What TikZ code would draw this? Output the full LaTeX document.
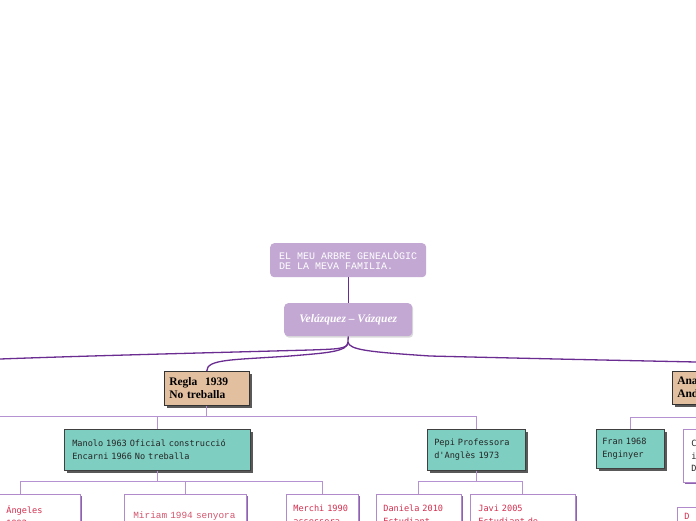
\documentclass[tikz,border=0pt]{standalone}
\usepackage{fontspec}
\usetikzlibrary{shadows}
\newfontfamily\courf{Liberation Mono}
\newfontfamily\pixf{DejaVu Sans Mono}
\newfontfamily\slabf{Liberation Serif}
\definecolor{lav}{HTML}{C3A8D4}
\definecolor{mainln}{HTML}{6A2C91}
\definecolor{subln}{HTML}{B592D2}
\definecolor{tanbox}{HTML}{E2BF9F}
\definecolor{tealbox}{HTML}{7ECEC1}
\definecolor{kidred}{HTML}{D42F4F}
\definecolor{kidpink}{HTML}{D4566E}
\definecolor{kidborder}{HTML}{B08ACB}
\definecolor{kidshadow}{HTML}{8E62AE}
\begin{document}
\begin{tikzpicture}[x=1pt,y=-1pt,
  mainline/.style={draw=mainln,line width=1.3pt},
  subline/.style={draw=subln,line width=0.8pt},
  lavbox/.style={fill=lav,rounded corners=4pt,draw=none,anchor=north west,text=white},
  tanstyle/.style={fill=tanbox,draw=black!80,line width=0.5pt,anchor=north west,align=left,
     drop shadow={shadow xshift=2.5pt,shadow yshift=-2.5pt,opacity=1,fill=black!65},
     font=\slabf\bfseries\fontsize{11.5}{13}\selectfont,inner ysep=0pt},
  tealstyle/.style={fill=tealbox,draw=black!75,line width=0.5pt,anchor=north west,align=left,
     drop shadow={shadow xshift=2.5pt,shadow yshift=-2.5pt,opacity=1,fill=black!65},
     font=\pixf\fontsize{8.6}{12.5}\selectfont,text=black!85,inner ysep=0pt},
  kidstyle/.style={fill=white,draw=kidborder,line width=0.7pt,anchor=north west,align=left,
     drop shadow={shadow xshift=1.5pt,shadow yshift=-1.5pt,opacity=1,fill=kidshadow},
     font=\pixf\fontsize{8.6}{13}\selectfont,text=kidred,inner ysep=11pt}
]
\useasboundingbox (0,0) rectangle (696,520);
\clip (0,0) rectangle (696,520);
\fill[white] (0,0) rectangle (696,520);

% title boxes
\node[lavbox,minimum width=156pt,minimum height=34pt,align=left,
      font=\courf\fontsize{10}{10}\selectfont] (title) at (270,243)
  {EL MEU ARBRE GENEALÒGIC\\DE LA MEVA FAMILIA.};
\node[lavbox,minimum width=128pt,minimum height=33pt,
      drop shadow={shadow xshift=1pt,shadow yshift=-1.5pt,opacity=0.35,fill=black!40},
      font=\slabf\itshape\bfseries\fontsize{11.5}{13}\selectfont] (veg) at (284,303)
  {Velázquez – Vázquez};

% generation 1
\node[tanstyle,minimum width=85pt,minimum height=34pt,text width=75pt,inner xsep=5pt] (regla) at (164,371)
  {Regla\ \ 1939\\No treballa};
\node[tanstyle,minimum width=85pt,minimum height=33pt,text width=75pt,inner xsep=5pt] (ana) at (672,371)
  {Ana\\And};

% generation 2
\node[tealstyle,minimum width=186pt,minimum height=41pt,text width=170pt,inner xsep=8pt] (manolo) at (64,429)
  {Manolo 1963 Oficial construcció\\Encarni 1966 No treballa};
\node[tealstyle,minimum width=98pt,minimum height=41pt,text width=84pt,inner xsep=7pt] (pepi) at (427,429)
  {Pepi Professora\\d'Anglès 1973};
\node[tealstyle,minimum width=68pt,minimum height=39pt,text width=56pt,inner xsep=6pt] (fran) at (596,429)
  {Fran 1968\\Enginyer};
\node[kidstyle,text=black!85,minimum width=80pt,minimum height=53pt,text width=64pt,inner xsep=8pt,inner ysep=0pt,
      font=\pixf\fontsize{8.6}{12.5}\selectfont] (cbox) at (683,429)
  {C\\i\\D};

% generation 3
\node[kidstyle,minimum width=120pt,text width=108pt,inner xsep=6pt] (ang) at (-40,494)
  {\hspace*{40pt}Ángeles\\\hspace*{40pt}1992};
\node[kidstyle,minimum width=122pt,text width=108pt,inner xsep=7pt,inner ysep=17pt,text=kidpink,
      font=\courf\fontsize{9.4}{13}\selectfont] (miriam) at (124,494)
  {\hspace*{2pt}Miriam 1994 senyora};
\node[kidstyle,minimum width=72pt,text width=62pt,inner xsep=5pt] (merchi) at (286,494)
  {\hspace*{2pt}Merchi 1990\\\hspace*{2pt}assessora};
\node[kidstyle,minimum width=85pt,text width=71pt,inner xsep=7pt] (dan) at (376,494)
  {Daniela 2010\\Estudiant};
\node[kidstyle,minimum width=105pt,text width=89pt,inner xsep=8pt] (javi) at (470,494)
  {Javi 2005\\Estudiant de};
\node[kidstyle,minimum width=80pt,text width=66pt,inner xsep=7pt,inner ysep=6pt] (dbox) at (677,507)
  {D\\ };

% main connectors
\coordinate (Lend) at (0,359);
\coordinate (Rend) at (696,362);
\coordinate (split) at (348,342);
\draw[mainline] (title.south) -- (veg.north);
\draw[mainline] (veg.south) -- (split) .. controls (348,349) and (338,349) .. (310,350)
   .. controls (200,353) and (80,356) .. (Lend);
\draw[mainline] (split) .. controls (348,352) and (325,353) .. (290,356)
   .. controls (232,360) and (207,359) .. (regla.north);
\draw[mainline] (split) .. controls (349,350) and (370,352) .. (430,356)
   .. controls (550,359) and (650,361) .. (Rend);

% sub connectors
\coordinate (RL) at (0,416);
\coordinate (MB) at (0,481);
\coordinate (AB) at (0,417);
\draw[subline] (regla.south) -- (regla.south |- RL) -- (RL);
\draw[subline] (regla.south |- RL) -| (manolo.north);
\draw[subline] (regla.south |- RL) -| (pepi.north);
\draw[subline] (manolo.south) -- (manolo.south |- MB) -| (ang.north);
\draw[subline] (manolo.south |- MB) -| (miriam.north);
\draw[subline] (manolo.south |- MB) -| (merchi.north);
\draw[subline] (pepi.south) -- (pepi.south |- MB) -| (dan.north);
\draw[subline] (pepi.south |- MB) -| (javi.north);
\draw[subline] (ana.south) -- (ana.south |- AB) -| (fran.north);
\draw[subline] (ana.south |- AB) -| (cbox.north);
\end{tikzpicture}
\end{document}
